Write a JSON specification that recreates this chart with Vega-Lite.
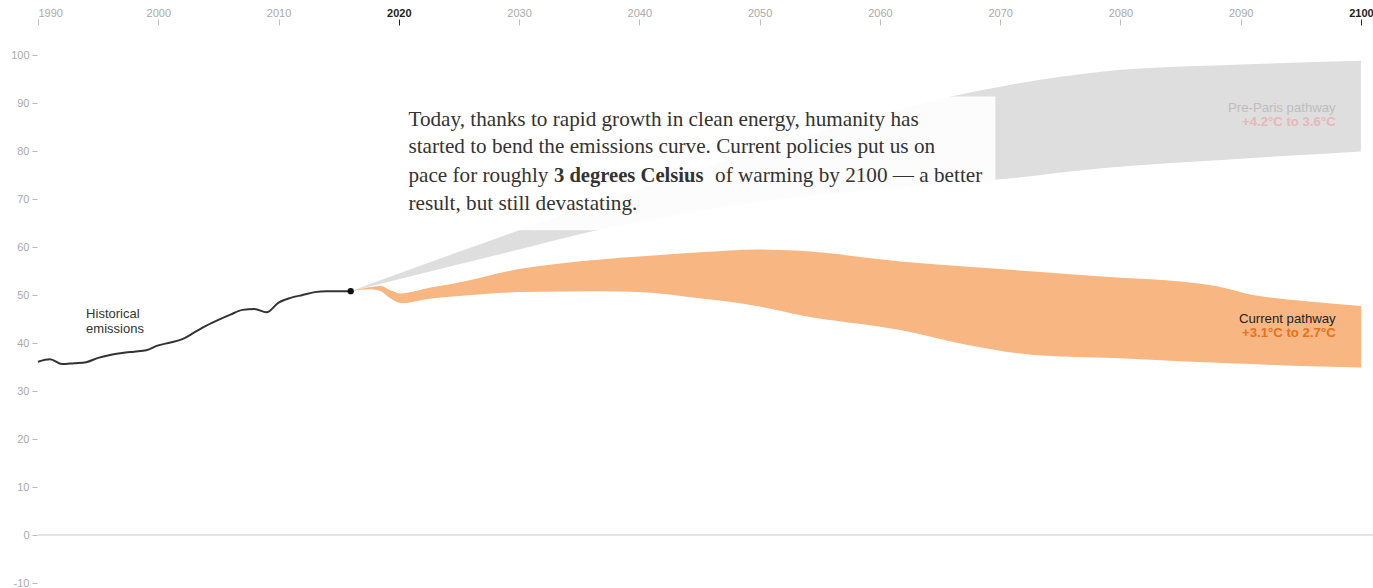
{
  "$schema": "https://vega.github.io/schema/vega-lite/v6.json",
  "width": 1335,
  "height": 528,
  "autosize": "none",
  "padding": {"left": 38, "top": 55, "right": 0, "bottom": 5},
  "config": {"view": {"stroke": null}, "font": "Liberation Sans"},
  "datasets": {
    "hist": [
      {"year": 1990, "value": 36.1}, {"year": 1991, "value": 36.6}, {"year": 1992, "value": 35.6},
      {"year": 1993, "value": 35.8}, {"year": 1994, "value": 36.0}, {"year": 1995, "value": 36.9},
      {"year": 1996, "value": 37.5}, {"year": 1997, "value": 37.9}, {"year": 1998, "value": 38.2},
      {"year": 1999, "value": 38.5}, {"year": 2000, "value": 39.5}, {"year": 2001, "value": 40.1},
      {"year": 2002, "value": 40.8}, {"year": 2003, "value": 42.2}, {"year": 2004, "value": 43.6},
      {"year": 2005, "value": 44.8}, {"year": 2006, "value": 45.9}, {"year": 2007, "value": 46.9},
      {"year": 2008, "value": 47.1}, {"year": 2009, "value": 46.4}, {"year": 2010, "value": 48.4},
      {"year": 2011, "value": 49.4}, {"year": 2012, "value": 50.0}, {"year": 2013, "value": 50.6},
      {"year": 2014, "value": 50.8}, {"year": 2015, "value": 50.8}, {"year": 2016, "value": 50.8}
    ],
    "current": [
      {"year": 2016, "lo": 50.8, "hi": 50.8},
      {"year": 2017.5, "lo": 51.2, "hi": 51.6},
      {"year": 2018.5, "lo": 50.8, "hi": 51.9},
      {"year": 2019.3, "lo": 49.3, "hi": 51.0},
      {"year": 2020.2, "lo": 48.3, "hi": 50.3},
      {"year": 2021, "lo": 48.5, "hi": 50.6},
      {"year": 2022, "lo": 49.0, "hi": 51.2},
      {"year": 2025, "lo": 49.8, "hi": 52.6},
      {"year": 2030, "lo": 50.6, "hi": 55.4},
      {"year": 2036.8, "lo": 50.8, "hi": 57.4},
      {"year": 2040, "lo": 50.6, "hi": 58.0},
      {"year": 2045, "lo": 49.3, "hi": 58.9},
      {"year": 2050, "lo": 47.6, "hi": 59.5},
      {"year": 2053.4, "lo": 45.8, "hi": 59.2},
      {"year": 2061.7, "lo": 42.7, "hi": 57.0},
      {"year": 2067.3, "lo": 39.6, "hi": 55.9},
      {"year": 2072.8, "lo": 37.5, "hi": 54.9},
      {"year": 2080, "lo": 36.8, "hi": 53.6},
      {"year": 2085, "lo": 36.2, "hi": 52.8},
      {"year": 2088, "lo": 35.9, "hi": 51.8},
      {"year": 2091, "lo": 35.6, "hi": 50.0},
      {"year": 2095, "lo": 35.2, "hi": 48.8},
      {"year": 2100, "lo": 34.9, "hi": 47.7}
    ],
    "preparis": [
      {"year": 2016, "lo": 50.8, "hi": 50.8},
      {"year": 2020, "lo": 53.3, "hi": 54.5},
      {"year": 2025, "lo": 56.4, "hi": 59.0},
      {"year": 2030, "lo": 59.5, "hi": 63.5},
      {"year": 2036.5, "lo": 63.5, "hi": 69.3},
      {"year": 2040, "lo": 65.2, "hi": 72.2},
      {"year": 2045, "lo": 67.5, "hi": 76.3},
      {"year": 2050, "lo": 69.5, "hi": 80.2},
      {"year": 2060, "lo": 72.0, "hi": 87.6},
      {"year": 2066, "lo": 73.3, "hi": 91.4},
      {"year": 2070, "lo": 74.1, "hi": 93.4},
      {"year": 2078.4, "lo": 76.4, "hi": 96.5},
      {"year": 2090, "lo": 78.4, "hi": 98.0},
      {"year": 2100, "lo": 79.9, "hi": 98.8}
    ],
    "box": [{"x1": 2019.8, "x2": 2069.6, "y1": 63.5, "y2": 91.35}]
  },
  "layer": [
    {
      "data": {"values": [{"y": 0}]},
      "mark": {"type": "rule", "color": "#cccccc", "strokeWidth": 1},
      "encoding": {"y": {"field": "y", "type": "quantitative", "scale": {"domain": [-10, 100]}}}
    },
    {
      "data": {"name": "preparis"},
      "mark": {"type": "area", "color": "#dedede", "interpolate": "monotone"},
      "encoding": {
        "x": {
          "field": "year", "type": "quantitative",
          "scale": {"domain": [1990, 2101], "nice": false, "zero": false},
          "axis": {
            "orient": "top", "title": null, "values": [1990, 2000, 2010, 2020, 2030, 2040, 2050, 2060, 2070, 2080, 2090, 2100],
            "format": "d", "domain": false, "grid": false, "offset": 30, "tickSize": 6,
            "labelPadding": 1, "labelFontSize": 11,
            "labelColor": {"condition": {"test": "datum.value == 2020 || datum.value == 2100", "value": "#222222"}, "value": "#aaaaaa"},
            "labelFontWeight": {"condition": {"test": "datum.value == 2020 || datum.value == 2100", "value": "bold"}, "value": "normal"},
            "tickColor": {"condition": {"test": "datum.value == 2020 || datum.value == 2100", "value": "#222222"}, "value": "#bbbbbb"}
          }
        },
        "y": {
          "field": "lo", "type": "quantitative",
          "scale": {"domain": [-10, 100], "nice": false},
          "axis": {
            "title": null, "values": [-10, 0, 10, 20, 30, 40, 50, 60, 70, 80, 90, 100],
            "labelExpr": "datum.value < 0 ? '-' + abs(datum.value) : datum.label",
            "domain": false, "grid": false, "offset": 1, "tickSize": 5, "tickColor": "#bbbbbb",
            "labelPadding": 3, "labelFontSize": 11, "labelColor": "#aaaaaa"
          }
        },
        "y2": {"field": "hi"}
      }
    },
    {
      "data": {"name": "box"},
      "mark": {"type": "rect", "color": "white", "opacity": 0.9},
      "encoding": {
        "x": {"field": "x1", "type": "quantitative"},
        "x2": {"field": "x2"},
        "y": {"field": "y1", "type": "quantitative"},
        "y2": {"field": "y2"}
      }
    },
    {
      "data": {"name": "current"},
      "mark": {"type": "area", "color": "#f8b682", "interpolate": "monotone"},
      "encoding": {
        "x": {"field": "year", "type": "quantitative"},
        "y": {"field": "lo", "type": "quantitative"},
        "y2": {"field": "hi"}
      }
    },
    {
      "data": {"name": "hist"},
      "mark": {"type": "line", "color": "#333333", "strokeWidth": 2, "interpolate": "monotone"},
      "encoding": {
        "x": {"field": "year", "type": "quantitative"},
        "y": {"field": "value", "type": "quantitative"}
      }
    },
    {
      "data": {"values": [{"year": 2016, "value": 50.8}]},
      "mark": {"type": "point", "filled": true, "color": "#111111", "size": 40, "opacity": 1},
      "encoding": {
        "x": {"field": "year", "type": "quantitative"},
        "y": {"field": "value", "type": "quantitative"}
      }
    },
    {
      "data": {"values": [
        {"year": 2020.8, "value": 85.27, "text": "Today, thanks to rapid growth in clean energy, humanity has"},
        {"year": 2020.8, "value": 79.52, "text": "started to bend the emissions curve. Current policies put us on"},
        {"year": 2020.8, "value": 73.6, "text": "pace for roughly"},
        {"year": 2046.3, "value": 73.6, "text": "of warming by 2100 — a better"},
        {"year": 2020.8, "value": 67.7, "text": "result, but still devastating."}
      ]},
      "mark": {"type": "text", "font": "Liberation Serif", "fontSize": 21.2, "color": "#333333", "align": "left", "baseline": "alphabetic"},
      "encoding": {
        "x": {"field": "year", "type": "quantitative"},
        "y": {"field": "value", "type": "quantitative"},
        "text": {"field": "text"}
      }
    },
    {
      "data": {"values": [{"year": 2032.9, "value": 73.6, "text": "3 degrees Celsius"}]},
      "mark": {"type": "text", "font": "Liberation Serif", "fontSize": 20.6, "fontWeight": "bold", "color": "#333333", "align": "left", "baseline": "alphabetic"},
      "encoding": {
        "x": {"field": "year", "type": "quantitative"},
        "y": {"field": "value", "type": "quantitative"},
        "text": {"field": "text"}
      }
    },
    {
      "data": {"values": [
        {"year": 1994.0, "value": 46.0, "text": "Historical"},
        {"year": 1994.0, "value": 42.9, "text": "emissions"}
      ]},
      "mark": {"type": "text", "fontSize": 13, "color": "#333333", "align": "left", "baseline": "middle"},
      "encoding": {
        "x": {"field": "year", "type": "quantitative"},
        "y": {"field": "value", "type": "quantitative"},
        "text": {"field": "text"}
      }
    },
    {
      "data": {"values": [{"year": 2097.9, "value": 88.9, "text": "Pre-Paris pathway"}]},
      "mark": {"type": "text", "fontSize": 13.2, "align": "right", "baseline": "middle", "color": "#bdbdbd"},
      "encoding": {
        "x": {"field": "year", "type": "quantitative"},
        "y": {"field": "value", "type": "quantitative"},
        "text": {"field": "text"}
      }
    },
    {
      "data": {"values": [{"year": 2097.9, "value": 86.1, "text": "+4.2°C to 3.6°C"}]},
      "mark": {"type": "text", "fontSize": 13.2, "fontWeight": "bold", "align": "right", "baseline": "middle", "color": "#e8b7b7"},
      "encoding": {
        "x": {"field": "year", "type": "quantitative"},
        "y": {"field": "value", "type": "quantitative"},
        "text": {"field": "text"}
      }
    },
    {
      "data": {"values": [{"year": 2097.9, "value": 44.9, "text": "Current pathway"}]},
      "mark": {"type": "text", "fontSize": 13.2, "align": "right", "baseline": "middle", "color": "#222222"},
      "encoding": {
        "x": {"field": "year", "type": "quantitative"},
        "y": {"field": "value", "type": "quantitative"},
        "text": {"field": "text"}
      }
    },
    {
      "data": {"values": [{"year": 2097.9, "value": 42.1, "text": "+3.1°C to 2.7°C"}]},
      "mark": {"type": "text", "fontSize": 13.2, "fontWeight": "bold", "align": "right", "baseline": "middle", "color": "#e8711a"},
      "encoding": {
        "x": {"field": "year", "type": "quantitative"},
        "y": {"field": "value", "type": "quantitative"},
        "text": {"field": "text"}
      }
    }
  ]
}
